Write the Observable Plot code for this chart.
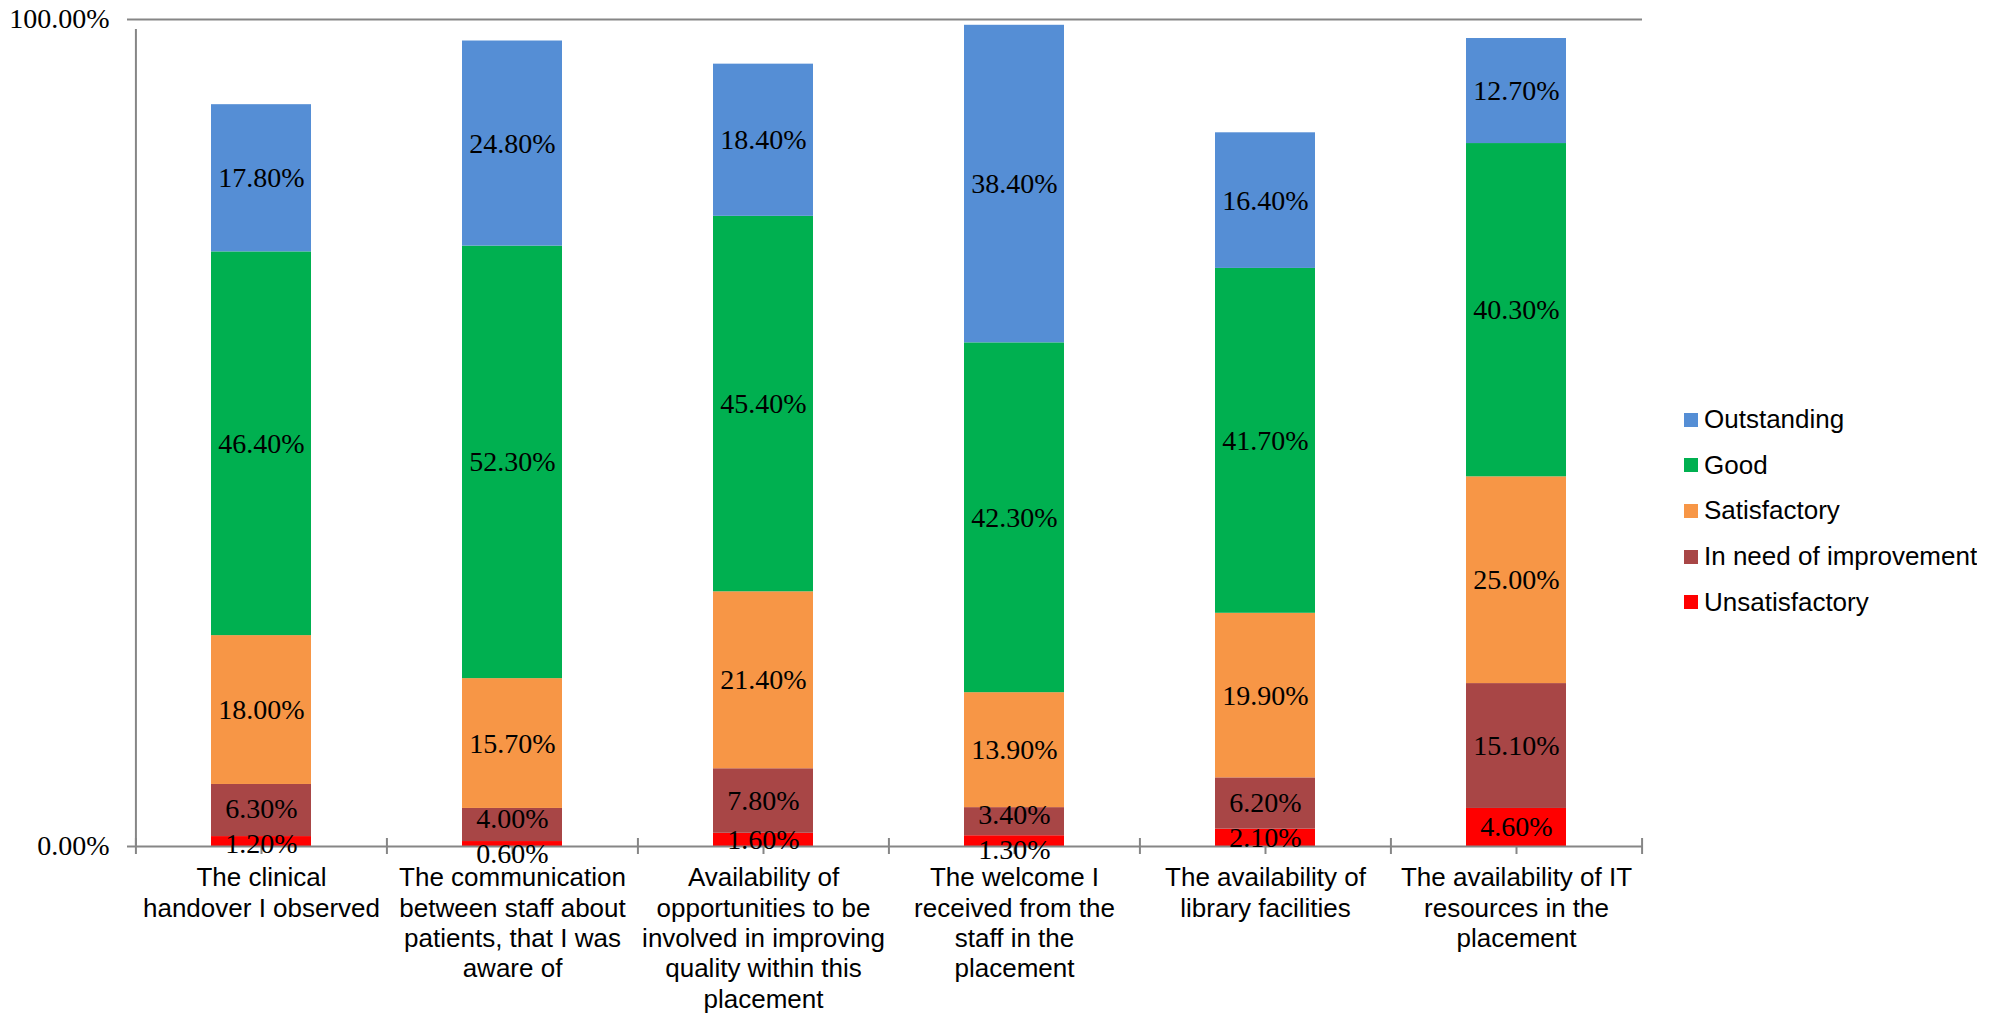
<!DOCTYPE html>
<html>
<head>
<meta charset="utf-8">
<script src="https://cdn.jsdelivr.net/npm/d3@7"></script>
<script src="https://cdn.jsdelivr.net/npm/@observablehq/plot@0.6"></script>
<style>
  body { margin: 0; background: #fff; }
  #wrap { position: relative; width: 2008px; height: 1015px; }
  #legend { position: absolute; left: 1684px; top: 397px; }
  .lg-swatches { margin: 0 !important; }
  .lg-swatch { height: 45.6px; padding-bottom: 0 !important; }
  .lg-swatch > svg { margin-right: 6px !important; }
  .lg-swatch-label { color: #000; }
</style>
</head>
<body>
<div id="wrap"></div>
<script>
// ---- data ----
const categories = [
  "The clinical handover I observed",
  "The communication between staff about patients, that I was aware of",
  "Availability of opportunities to be involved in improving quality within this placement",
  "The welcome I received from the staff in the placement",
  "The availability of library facilities",
  "The availability of IT resources in the placement"
];
const tickLabels = [
  "The clinical\nhandover I observed",
  "The communication\nbetween staff about\npatients, that I was\naware of",
  "Availability of\nopportunities to be\ninvolved in improving\nquality within this\nplacement",
  "The welcome I\nreceived from the\nstaff in the\nplacement",
  "The availability of\nlibrary facilities",
  "The availability of IT\nresources in the\nplacement"
];
// stack order, bottom to top
const series = ["Unsatisfactory", "In need of improvement", "Satisfactory", "Good", "Outstanding"];
const unsatisfactory  = [1.2, 0.6, 1.6, 1.3, 2.1, 4.6];
const needImprovement = [6.3, 4.0, 7.8, 3.4, 6.2, 15.1];
const satisfactory    = [18.0, 15.7, 21.4, 13.9, 19.9, 25.0];
const good            = [46.4, 52.3, 45.4, 42.3, 41.7, 40.3];
const outstanding     = [17.8, 24.8, 18.4, 38.4, 16.4, 12.7];
const yTicks = [0, 100];
const legendOrder = ["Outstanding", "Good", "Satisfactory", "In need of improvement", "Unsatisfactory"];
const legendColors = ["#558ED5", "#00B050", "#F79646", "#A84646", "#FF0000"];

// ---- layout ----
const W = 2008, H = 1015;
const mL = 135, mR = 366, mT = 19, mB = 169;
const plotH = H - mT - mB;
const step = (W - mL - mR) / categories.length;
const axisColor = "#868686";
const sans = "'Liberation Sans', Arial, sans-serif";
const serif = "'Liberation Serif', 'Times New Roman', serif";

// ---- tidy table ----
const valuesBySeries = [unsatisfactory, needImprovement, satisfactory, good, outstanding];
const rows = [];
categories.forEach((c, i) => {
  series.forEach((s, j) => rows.push({cat: c, series: s, value: valuesBySeries[j][i]}));
});

// label positions: segment centres, pushed apart when too close (like Excel)
const minGap = 35 / plotH * 100;
const labels = [];
categories.forEach((c, i) => {
  let cum = 0;
  const items = series.map((s, j) => {
    const v = valuesBySeries[j][i];
    const it = {cat: c, pos: cum + v / 2, text: v.toFixed(2) + "%"};
    cum += v;
    return it;
  });
  for (let k = 1; k < items.length; k++) {
    const gap = items[k].pos - items[k - 1].pos;
    if (gap < minGap) {
      const d = minGap - gap;
      items[k - 1].pos -= d * 0.6;
      items[k].pos += d * 0.4;
    }
  }
  labels.push(...items);
});

const lastCat = categories[categories.length - 1];

const plot = Plot.plot({
  width: W,
  height: H,
  marginLeft: mL,
  marginRight: mR,
  marginTop: mT,
  marginBottom: mB,
  style: {fontFamily: serif, background: "#fff"},
  x: {domain: categories, paddingInner: 0.6, paddingOuter: 0.3, axis: null},
  y: {domain: [0, 100], axis: null},
  color: {domain: legendOrder, range: legendColors},
  marks: [
    // top gridline (100%)
    Plot.ruleY([yTicks[1]], {stroke: axisColor, strokeWidth: 2}),
    // category centre ticks
    Plot.ruleX(categories, {x: d => d, y1: 0, y2: 0, insetBottom: -8, stroke: axisColor, strokeWidth: 2}),
    Plot.barY(rows, {x: "cat", y: "value", fill: "series", order: series}),
    // x axis line
    Plot.ruleY([yTicks[0]], {stroke: axisColor, strokeWidth: 2}),
    // boundary ticks between categories
    Plot.ruleX(categories, {x: d => d, y1: 0, y2: 0, insetTop: -8, insetBottom: -8, dx: -step / 2, stroke: axisColor, strokeWidth: 2}),
    Plot.ruleX([lastCat], {x: d => d, y1: 0, y2: 0, insetTop: -8, insetBottom: -8, dx: step / 2, stroke: axisColor, strokeWidth: 2}),
    // y axis line
    Plot.ruleX([categories[0]], {x: d => d, y1: 0, y2: 100, insetBottom: -10, dx: -step / 2, stroke: axisColor, strokeWidth: 2}),
    Plot.axisY({ticks: yTicks, tickSize: 8, tickPadding: 18, tickFormat: d => d.toFixed(2) + "%",
      fontSize: 28, fontFamily: serif, stroke: axisColor, strokeWidth: 2, fill: "#000", label: null}),
    // data labels
    Plot.text(labels, {x: "cat", y: "pos", text: "text", fontSize: 28, fontFamily: serif, fill: "#000"}),
    // category labels
    Plot.text(categories, {x: d => d, frameAnchor: "bottom", text: (d, i) => tickLabels[i],
      lineAnchor: "top", dy: 18, lineHeight: 1.17, fontSize: 26, fontFamily: sans, fill: "#000"})
  ]
});

const wrap = document.getElementById("wrap");
wrap.appendChild(plot);
const lg = plot.legend("color", {
  columns: 1, swatchSize: 14, className: "lg",
  style: {fontSize: "26px", fontFamily: sans}
});
const lgDiv = document.createElement("div");
lgDiv.id = "legend";
lgDiv.appendChild(lg);
wrap.appendChild(lgDiv);
</script>
</body>
</html>
